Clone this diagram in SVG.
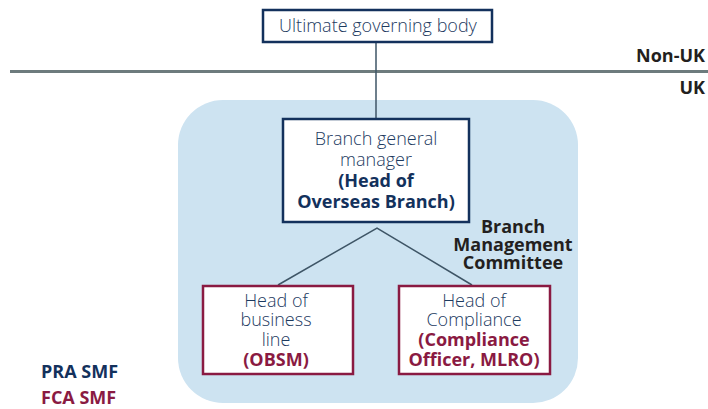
<svg xmlns="http://www.w3.org/2000/svg" width="708" height="409" viewBox="0 0 708 409">
<style>
text{font-family:"Open Sans","Noto Sans","Liberation Sans",sans-serif;font-size:18px;text-anchor:middle}
.n{fill:#1d3a5f;font-weight:300}
.b{font-weight:bold}
.nv{fill:#13315c}
.mr{fill:#8a1a42}
.k{fill:#231f20;font-weight:bold}
.navybox{fill:#fff;stroke:#13315c;stroke-width:2.5}
.redbox{fill:#fff;stroke:#8a1a42;stroke-width:2.5}
.conn{stroke:#3e5566;stroke-width:1.5;fill:none}
</style>
<rect x="178" y="100" width="400" height="303" rx="45" fill="#cde3f1"/>
<line x1="10" y1="71.5" x2="708" y2="71.5" stroke="#6d7b7d" stroke-width="3"/>
<text x="705" y="62" class="k" style="text-anchor:end">Non-UK</text>
<text x="705" y="94" class="k" style="text-anchor:end">UK</text>
<g id="connectors">
<line class="conn" x1="376" y1="42" x2="376" y2="120"/>
<polyline class="conn" points="278,285 377,228 472,285"/>
</g>
<g id="ultimate">
<rect class="navybox" x="263" y="10" width="229" height="32"/>
<text x="378" y="32" class="n">Ultimate governing body</text>
</g>
<g id="bgm">
<rect class="navybox" x="283" y="119" width="186" height="103"/>
<text x="376" y="145" class="n">Branch general</text>
<text x="376" y="166" class="n">manager</text>
<text x="376" y="187" class="nv b">(Head of</text>
<text x="376" y="208" class="nv b">Overseas Branch)</text>
</g>
<g id="bmc">
<text x="513" y="233" class="k">Branch</text>
<text x="513" y="251" class="k">Management</text>
<text x="513" y="269" class="k">Committee</text>
</g>
<g id="hbl">
<rect class="redbox" x="203" y="286" width="150" height="88"/>
<text x="276" y="307" class="n">Head of</text>
<text x="276" y="326" class="n">business</text>
<text x="276" y="346" class="n">line</text>
<text x="276" y="366" class="mr b">(OBSM)</text>
</g>
<g id="hoc">
<rect class="redbox" x="399" y="286" width="151" height="88"/>
<text x="474" y="307" class="n">Head of</text>
<text x="474" y="326" class="n">Compliance</text>
<text x="474" y="346" class="mr b">(Compliance</text>
<text x="474" y="366" class="mr b">Officer, MLRO)</text>
</g>
<g id="legend">
<text x="41" y="378" class="nv b" style="text-anchor:start">PRA SMF</text>
<text x="41" y="404" class="mr b" style="text-anchor:start">FCA SMF</text>
</g>
</svg>
